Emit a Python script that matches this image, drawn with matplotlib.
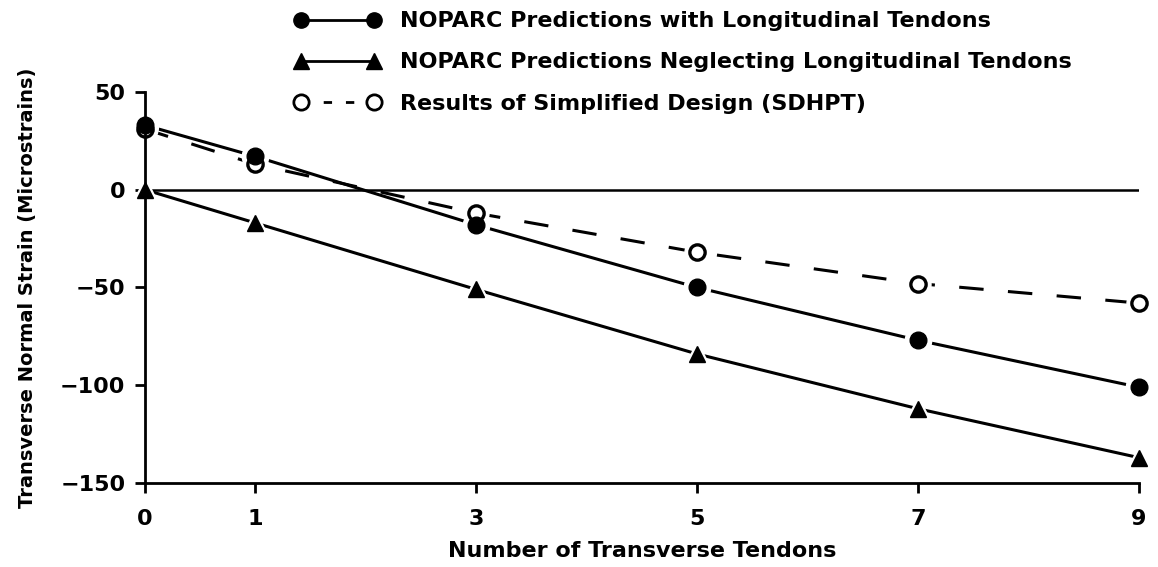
import matplotlib.pyplot as plt
from matplotlib.lines import Line2D

plt.rcParams['font.family'] = ['DejaVu Sans']
plt.rcParams['font.weight'] = 'bold'

tendons = [0, 1, 3, 5, 7, 9]
with_long = [33, 17, -18, -50, -77, -101]
without_long = [0, -17, -51, -84, -112, -137]
sdhpt = [31, 13, -12, -32, -48, -58]

xticks = [0, 1, 3, 5, 7, 9]
yticks = [50, 0, -50, -100, -150]
ytick_labels = ['50', '0', '\u221250', '\u2212100', '\u2212150']

fig = plt.figure(figsize=(11.58, 5.67), dpi=100)
ax = fig.add_axes([0.125, 0.148, 0.8586, 0.690])

ax.axhline(0, color='black', lw=1.8, zorder=1)

# lines first, then a white halo so the lines stop short of the markers
series = [
    (sdhpt, (0, (8, 8)), 'o', 11),
    (with_long, '-', 'o', 12),
    (without_long, '-', '^', 12),
]
for ys, ls, mk, ms in series:
    ax.plot(tendons, ys, color='black', lw=2.2, ls=ls, zorder=2)
for ys, ls, mk, ms in series:
    ax.plot(tendons, ys, ls='none', marker=mk, ms=ms + 7, mfc='white',
            mec='white', zorder=3, clip_on=False)
ax.plot(tendons, sdhpt, ls='none', marker='o', ms=11, mfc='white',
        mec='black', mew=2.4, zorder=4, clip_on=False)
ax.plot(tendons, with_long, ls='none', marker='o', ms=12, mfc='black',
        mec='black', zorder=5, clip_on=False)
ax.plot(tendons, without_long, ls='none', marker='^', ms=12, mfc='black',
        mec='black', zorder=5, clip_on=False)

ax.set_xlim(0, 9)
ax.set_ylim(-150, 50)
ax.set_xticks(xticks)
ax.set_yticks(yticks)
ax.set_yticklabels(ytick_labels)
ax.tick_params(direction='out', length=7, width=2, labelsize=16)
ax.tick_params(axis='x', pad=12)
ax.tick_params(axis='y', pad=7)
for s in ['top', 'right']:
    ax.spines[s].set_visible(False)
for s in ['left', 'bottom']:
    ax.spines[s].set_linewidth(2)
    ax.spines[s].set_zorder(6)

ax.set_xlabel('Number of Transverse Tendons', fontsize=16, fontweight='bold', labelpad=8)
ax.set_ylabel('Transverse Normal Strain (Microstrains)', fontsize=14, fontweight='bold')
ax.yaxis.set_label_coords(-0.108, 0.5)

handles = [
    Line2D([], [], color='black', lw=2, marker='o', ms=11, mfc='black'),
    Line2D([], [], color='black', lw=2, marker='^', ms=11, mfc='black'),
    Line2D([], [], color='black', lw=2, ls=(0, (3, 5)), marker='o', ms=11,
           mfc='white', mew=2),
]
labels = [
    'NOPARC Predictions with Longitudinal Tendons',
    'NOPARC Predictions Neglecting Longitudinal Tendons',
    'Results of Simplified Design (SDHPT)',
]
fig.legend(handles, labels, loc='upper left', bbox_to_anchor=(0.254, 0.98),
           frameon=False, numpoints=2, handlelength=3.9, handletextpad=0.85,
           labelspacing=0.95, borderpad=0, borderaxespad=0,
           prop={'weight': 'bold', 'size': 16})

fig.savefig('out.png', dpi=100)
